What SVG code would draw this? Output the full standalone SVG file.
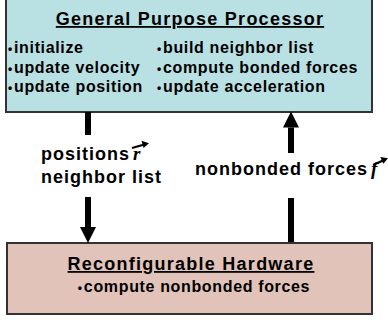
<svg xmlns="http://www.w3.org/2000/svg" width="388" height="320" viewBox="0 0 388 320">
<style>
.box{stroke:#333;stroke-width:2}
.title{font-family:"Liberation Sans",Arial,sans-serif;font-weight:bold;font-size:18px;letter-spacing:1.25px;text-decoration:underline;fill:#000}
.item{font-family:"Liberation Sans",Arial,sans-serif;font-weight:bold;font-size:16px;letter-spacing:0.65px;fill:#000}
.b{font-size:12px;letter-spacing:1.8px}
.lbl{font-family:"Liberation Sans",Arial,sans-serif;font-weight:bold;font-size:18px;letter-spacing:1px;fill:#000}
.vec{font-family:"Liberation Serif","Times New Roman",serif;font-style:italic;font-weight:bold;font-size:19px;fill:#000}
.shaft{stroke:#000;stroke-width:6;fill:none}
.va{stroke:#000;stroke-width:2.2;fill:none}
</style>
<defs>
<marker id="head" markerUnits="userSpaceOnUse" markerWidth="17" markerHeight="17" refX="0" refY="8" orient="auto">
<path d="M0,0 L16,8 L0,16 Z" fill="#000"/>
</marker>
</defs>
<rect width="388" height="320" fill="#fff"/>
<g id="gpp">
<rect class="box" x="6" y="-5" width="366" height="117" fill="#b9e0e3"/>
<text class="title" x="190" y="25" text-anchor="middle">General Purpose Processor</text>
<text class="item" x="8" y="53"><tspan class="b">•</tspan>initialize</text>
<text class="item" x="8" y="73"><tspan class="b">•</tspan>update velocity</text>
<text class="item" x="8" y="92"><tspan class="b">•</tspan>update position</text>
<text class="item" x="157" y="53"><tspan class="b">•</tspan>build neighbor list</text>
<text class="item" x="157" y="73"><tspan class="b">•</tspan>compute bonded forces</text>
<text class="item" x="157" y="92"><tspan class="b">•</tspan>update acceleration</text>
</g>
<g id="rh">
<rect class="box" x="7" y="243" width="365" height="71" fill="#e2c3b9"/>
<text class="title" x="191" y="270" text-anchor="middle">Reconfigurable Hardware</text>
<text class="item" x="194" y="292" text-anchor="middle"><tspan class="b">•</tspan>compute nonbonded forces</text>
</g>
<g id="connectors">
<path class="shaft" d="M88,112 V135 M88,197 V227" marker-end="url(#head)"/>
<path class="shaft" d="M291,242 V198 M291,153 V127.5" marker-end="url(#head)"/>
</g>
<g id="labels">
<text class="lbl" x="41" y="160">positions</text>
<text class="vec" x="133" y="160">r</text>
<path class="va" d="M132,148 L143.5,144.8"/>
<path d="M149,143.2 L141.5,140.8 L143.5,148 Z" fill="#000"/>
<text class="lbl" x="41" y="183">neighbor list</text>
<text class="lbl" x="195" y="175">nonbonded forces</text>
<text class="vec" x="371" y="175">f</text>
<path class="va" d="M373,165 L383,160.6"/>
<path d="M388,158.3 L380.3,157 L383.3,163.8 Z" fill="#000"/>
</g>
</svg>
